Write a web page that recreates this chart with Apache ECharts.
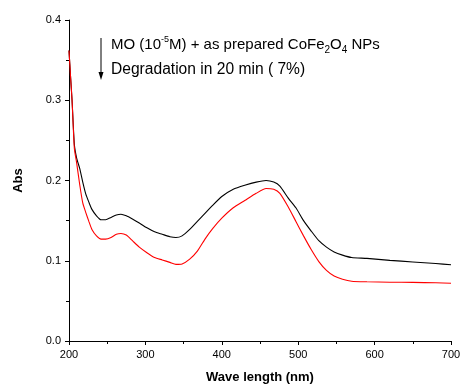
<!DOCTYPE html>
<html>
<head>
<meta charset="utf-8">
<script src="https://cdn.jsdelivr.net/npm/echarts@6/dist/echarts.min.js"></script>
<style>
  html, body { margin: 0; padding: 0; background: #fff; }
  #chart { width: 462px; height: 387px; }
</style>
</head>
<body>
<div id="chart"></div>
<script>
// wavelength (nm)
const wavelength = [200, 202, 204, 207, 210, 214, 218, 222, 226, 230, 236, 242, 248, 255, 262, 268, 275, 283, 292, 302,
  312, 322, 332, 340, 348, 358, 368, 378, 388, 400, 415, 430, 445, 458, 468, 476, 487, 497, 507, 517,
  527, 537, 547, 558, 570, 590, 620, 650, 680, 700];

// MO + as prepared CoFe2O4 NPs (black)
const absBlack = [0.362, 0.330, 0.300, 0.245, 0.228, 0.215, 0.198, 0.183, 0.173, 0.164, 0.156, 0.151, 0.151, 0.154, 0.157, 0.158, 0.156, 0.152, 0.147, 0.141,
  0.136, 0.133, 0.130, 0.129, 0.131, 0.139, 0.149, 0.159, 0.169, 0.180, 0.189, 0.194, 0.198, 0.200, 0.198, 0.193, 0.178, 0.166, 0.150, 0.137,
  0.125, 0.117, 0.111, 0.107, 0.104, 0.103, 0.1005, 0.0985, 0.0965, 0.095];

// degradation after 20 min (red)
const absRed = [0.362, 0.330, 0.300, 0.240, 0.222, 0.195, 0.172, 0.160, 0.149, 0.139, 0.131, 0.127, 0.127, 0.129, 0.133, 0.134, 0.132, 0.125, 0.117, 0.110,
  0.104, 0.101, 0.098, 0.0955, 0.096, 0.102, 0.112, 0.127, 0.140, 0.153, 0.166, 0.175, 0.184, 0.190, 0.189, 0.184, 0.167, 0.149, 0.131, 0.114,
  0.099, 0.088, 0.081, 0.077, 0.0745, 0.0738, 0.0733, 0.073, 0.0725, 0.072];

const xTicks = [200, 300, 400, 500, 600, 700];
const yTicks = [0.0, 0.1, 0.2, 0.3, 0.4];

const pair = (ys) => wavelength.map((x, i) => [x, ys[i]]);

const chart = echarts.init(document.getElementById('chart'));
const font = 'Liberation Sans, Arial, sans-serif';

chart.setOption({
  animation: false,
  grid: { left: 69, top: 20, right: 11, bottom: 46, outerBoundsMode: 'none' },
  xAxis: {
    type: 'value',
    min: xTicks[0],
    max: xTicks[xTicks.length - 1],
    interval: 100,
    name: 'Wave length (nm)',
    nameLocation: 'middle',
    nameGap: 30,
    nameTextStyle: { fontFamily: font, fontSize: 13, fontWeight: 'bold', color: '#000' },
    axisLine: { lineStyle: { color: '#000', width: 1 } },
    axisTick: { length: 4, lineStyle: { color: '#000' } },
    minorTick: { show: true, splitNumber: 2, length: 3, lineStyle: { color: '#000' } },
    axisLabel: { fontFamily: font, fontSize: 11, color: '#000', margin: 8 },
    splitLine: { show: false }
  },
  yAxis: {
    type: 'value',
    min: yTicks[0],
    max: yTicks[yTicks.length - 1],
    interval: 0.1,
    name: 'Abs',
    nameLocation: 'middle',
    nameGap: 44,
    nameTextStyle: { fontFamily: font, fontSize: 13, fontWeight: 'bold', color: '#000' },
    axisLine: { show: true, lineStyle: { color: '#000', width: 1 } },
    axisTick: { show: true, length: 4, lineStyle: { color: '#000' } },
    minorTick: { show: true, splitNumber: 2, length: 3, lineStyle: { color: '#000' } },
    axisLabel: { fontFamily: font, fontSize: 11, color: '#000', margin: 8, formatter: (v) => v.toFixed(1) },
    splitLine: { show: false }
  },
  series: [
    {
      type: 'line',
      data: pair(absBlack),
      smooth: 0.2,
      showSymbol: false,
      lineStyle: { color: '#000', width: 1.1 }
    },
    {
      type: 'line',
      data: pair(absRed),
      smooth: 0.2,
      showSymbol: false,
      lineStyle: { color: '#ff0000', width: 1.1 }
    }
  ],
  graphic: [
    {
      type: 'line',
      shape: { x1: 101, y1: 38, x2: 101, y2: 74 },
      style: { stroke: '#000', lineWidth: 1 }
    },
    {
      type: 'polygon',
      shape: { points: [[98.5, 72], [103.5, 72], [101, 80]] },
      style: { fill: '#000' }
    },
    {
      type: 'text',
      left: 111,
      top: 35,
      style: {
        text: 'MO (10{sup|-5}M) + as prepared CoFe{sub|2}O{sub|4} NPs',
        fontFamily: font,
        fontSize: 15,
        fill: '#000',
        lineHeight: 20,
        rich: {
          sup: { fontSize: 9, fontFamily: font, fill: '#000', verticalAlign: 'top', lineHeight: 20 },
          sub: { fontSize: 10, fontFamily: font, fill: '#000', verticalAlign: 'bottom', lineHeight: 20 }
        }
      }
    },
    {
      type: 'text',
      left: 111,
      top: 62,
      style: {
        text: 'Degradation in 20 min ( 7%)',
        fontFamily: font,
        fontSize: 15.6,
        fill: '#000'
      }
    }
  ]
});
</script>
</body>
</html>
